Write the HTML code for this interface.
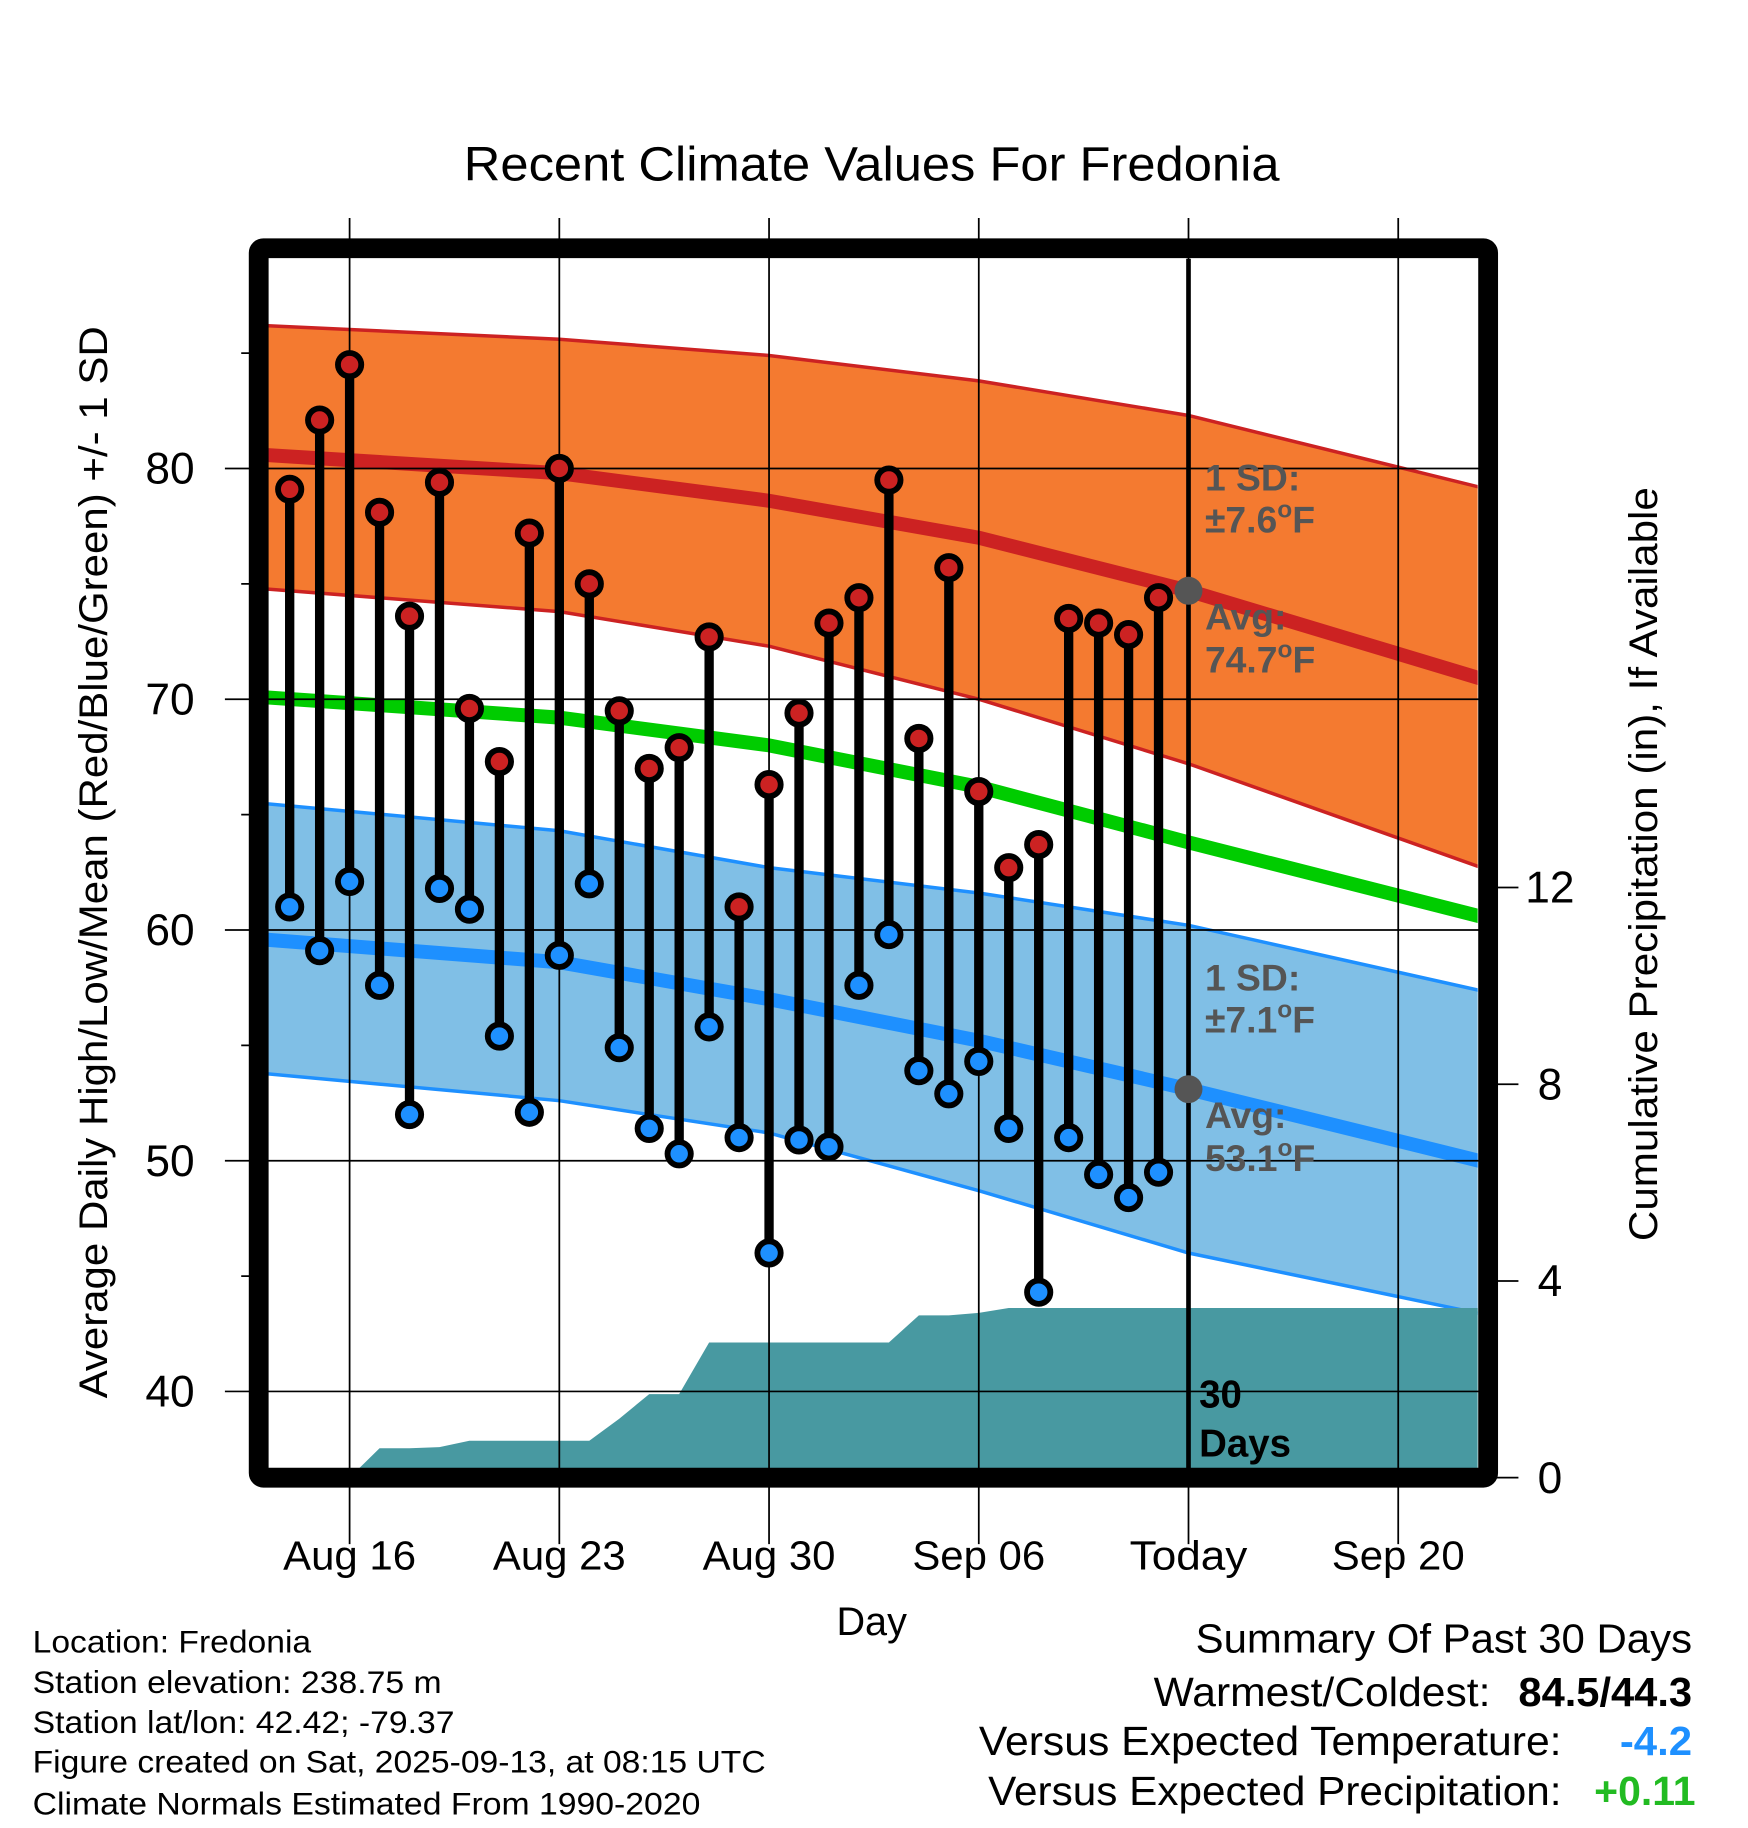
<!DOCTYPE html>
<html><head><meta charset="utf-8"><style>
html,body{margin:0;padding:0;background:#fff}
svg{display:block}
text{font-family:"Liberation Sans",sans-serif}
</style></head><body>
<svg id="chart" width="1748" height="1828" viewBox="0 0 1500 1568.6" xmlns="http://www.w3.org/2000/svg">
<defs><clipPath id="plotclip"><rect x="230" y="221" width="1038" height="1039"/></clipPath></defs>
<g id="bands" clip-path="url(#plotclip)"></g>
<g id="grid"></g>
<g id="marks"></g>
<g id="axes"></g>
<text x="398" y="155" font-size="41" textLength="700" lengthAdjust="spacingAndGlyphs">Recent Climate Values For Fredonia</text>
<text x="748" y="1403" font-size="34" text-anchor="middle">Day</text>
<text transform="translate(92,1200) rotate(-90)" font-size="34" textLength="920" lengthAdjust="spacingAndGlyphs">Average Daily High/Low/Mean (Red/Blue/Green) +/- 1 SD</text>
<text transform="translate(1422,1065) rotate(-90)" font-size="34" textLength="647" lengthAdjust="spacingAndGlyphs">Cumulative Precipitation (in), If Available</text>
<g font-size="27">
<text x="28" y="1418" textLength="239" lengthAdjust="spacingAndGlyphs">Location: Fredonia</text>
<text x="28" y="1453" textLength="351" lengthAdjust="spacingAndGlyphs">Station elevation: 238.75 m</text>
<text x="28" y="1487" textLength="362" lengthAdjust="spacingAndGlyphs">Station lat/lon: 42.42; -79.37</text>
<text x="28" y="1521" textLength="629" lengthAdjust="spacingAndGlyphs">Figure created on Sat, 2025-09-13, at 08:15 UTC</text>
<text x="28" y="1557" textLength="573" lengthAdjust="spacingAndGlyphs">Climate Normals Estimated From 1990-2020</text>
</g>
<g font-size="35">
<text x="1026" y="1418" textLength="426" lengthAdjust="spacingAndGlyphs">Summary Of Past 30 Days</text>
<text x="990" y="1464" textLength="289" lengthAdjust="spacingAndGlyphs">Warmest/Coldest:</text>
<text x="1303" y="1464" textLength="149" lengthAdjust="spacingAndGlyphs" font-weight="bold">84.5/44.3</text>
<text x="840" y="1506" textLength="500" lengthAdjust="spacingAndGlyphs">Versus Expected Temperature:</text>
<text x="1390" y="1506" textLength="62" lengthAdjust="spacingAndGlyphs" font-weight="bold" fill="#1e90ff">-4.2</text>
<text x="848" y="1549" textLength="492" lengthAdjust="spacingAndGlyphs">Versus Expected Precipitation:</text>
<text x="1368" y="1549" textLength="87" lengthAdjust="spacingAndGlyphs" font-weight="bold" fill="#22bb22">+0.11</text>
</g>
<script>
// data (days offset from Aug 16)
const dayOffsets = [-2,-1,0,1,2,3,4,5,6,7,8,9,10,11,12,13,14,15,16,17,18,19,20,21,22,23,24,25,26,27];
const highs = [79.1,82.1,84.5,78.1,73.6,79.4,69.6,67.3,77.2,80.0,75.0,69.5,67.0,67.9,72.7,61.0,66.3,69.4,73.3,74.4,79.5,68.3,75.7,66.0,62.7,63.7,73.5,73.3,72.8,74.4];
const lows = [61.0,59.1,62.1,57.6,52.0,61.8,60.9,55.4,52.1,58.9,62.0,54.9,51.4,50.3,55.8,51.0,46.0,50.9,50.6,57.6,59.8,53.9,52.9,54.3,51.4,44.3,51.0,49.4,48.4,49.5];
const precipCum = [0,0,0,0.6,0.6,0.62,0.75,0.75,0.75,0.75,0.75,1.2,1.7,1.7,2.75,2.75,2.75,2.75,2.75,2.75,2.75,3.3,3.3,3.35,3.45,3.45,3.45,3.45,3.45,3.45];
const normDays = [-3,7,14,21,28,38];
const highAvg = [80.6,79.8,78.6,77.0,74.7,70.8];
const highUp = [86.2,85.6,84.9,83.8,82.3,79.1];
const highLo = [74.8,73.8,72.3,70.0,67.2,62.6];
const meanAvg = [70.1,69.2,68.0,66.2,63.8,60.5];
const lowAvg = [59.6,58.6,57.0,55.2,53.1,49.9];
const lowUp = [65.5,64.3,62.7,61.6,60.2,57.3];
const lowLo = [53.8,52.6,51.2,48.7,46.0,43.3];
const xTickDays = [0,7,14,21,28,35];
const xTickLabels = ["Aug 16","Aug 23","Aug 30","Sep 06","Today","Sep 20"];
const yTicks = [40,50,60,70,80];
const yMinor = [45,55,65,75,85];
const pTicks = [0,4,8,12];
const todayDay = 28;

const NS="http://www.w3.org/2000/svg";
const X = d => 300 + d*25.71;
const Y = v => 402 + (80 - v)*19.8;
const P = v => 1268 - v*42.2;
function mk(tag, attrs, parent){const e=document.createElementNS(NS,tag);for(const k in attrs)e.setAttribute(k,attrs[k]);parent.appendChild(e);return e;}
const bands=document.getElementById('bands'), grid=document.getElementById('grid'), marks=document.getElementById('marks'), axes=document.getElementById('axes');
const pts = arr => normDays.map((d,i)=>X(d).toFixed(1)+','+Y(arr[i]).toFixed(1));
function band(up, lo, fill, edge, name){
  const p = mk('polygon',{points: pts(up).concat(pts(lo).reverse()).join(' '), fill: fill}, bands);
  
  
  [up,lo].forEach(a=>{const l=mk('polyline',{points:pts(a).join(' '),fill:'none',stroke:edge,'stroke-width':3},bands);
    
    });
}
function line(arr, color, w, name){
  const l=mk('polyline',{points:pts(arr).join(' '),fill:'none',stroke:color,'stroke-width':w},bands);
  
  
}
band(highUp, highLo, '#f47a30', '#cc2222', 'high-sd-band');
band(lowUp, lowLo, '#80bfe6', '#1e90ff', 'low-sd-band');
line(highAvg, '#cc2222', 12, 'high-normal-line');
line(lowAvg, '#1e90ff', 12, 'low-normal-line');
line(meanAvg, '#00cc00', 12, 'mean-normal-line');
let pp = [X(-3)+','+P(0)];
dayOffsets.forEach((d,i)=>pp.push(X(d).toFixed(1)+','+P(precipCum[i]).toFixed(1)));
pp.push(X(40)+','+P(precipCum[precipCum.length-1]));
pp.push(X(40)+','+P(0));
const area=mk('polygon',{points:pp.join(' '),fill:'#4899a1'},bands);


yTicks.forEach(v=>{const l=mk('line',{x1:193,x2:1278,y1:Y(v),y2:Y(v),stroke:'#000','stroke-width':1.5},grid);
  
  
  const t=mk('text',{x:167,y:Y(v)+13,'font-size':38,'text-anchor':'end'},axes);t.textContent=v;
  
  });
yMinor.forEach(v=>{const l=mk('line',{x1:207,x2:222,y1:Y(v),y2:Y(v),stroke:'#000','stroke-width':1.5},grid);
  
  });
xTickDays.forEach((d,i)=>{const l=mk('line',{x1:X(d),x2:X(d),y1:187,y2:1325,stroke:'#000','stroke-width':1.5},grid);
  
  
  const w = xTickLabels[i]==='Today' ? 101 : 114;
  const t=mk('text',{x:X(d)-w/2,y:1347,'font-size':35,textLength:w,lengthAdjust:'spacingAndGlyphs'},axes);t.textContent=xTickLabels[i];
  
  });
pTicks.forEach(v=>{const l=mk('line',{x1:1278,x2:1303,y1:P(v),y2:P(v),stroke:'#000','stroke-width':1.5},axes);
  
  
  const t=mk('text',{x:1330,y:P(v)+13,'font-size':38,'text-anchor':'middle'},axes);t.textContent=v;
  
  });
const tl=mk('line',{x1:X(todayDay),x2:X(todayDay),y1:222,y2:1266,stroke:'#000','stroke-width':4},marks);


dayOffsets.forEach((d,i)=>{
  const s=mk('line',{x1:X(d),x2:X(d),y1:Y(highs[i]),y2:Y(lows[i]),stroke:'#000','stroke-width':8},marks);
  
  
});
dayOffsets.forEach((d,i)=>{
  const h=mk('circle',{cx:X(d),cy:Y(highs[i]),r:10,fill:'#cc2222',stroke:'#000','stroke-width':5},marks);
  
  
  const l=mk('circle',{cx:X(d),cy:Y(lows[i]),r:10,fill:'#1e90ff',stroke:'#000','stroke-width':5},marks);
  
  
});
const todayIdx = normDays.indexOf(todayDay);
[[highAvg[todayIdx],'today-high-normal'],[lowAvg[todayIdx],'today-low-normal']].forEach(([v,n])=>{
  const c=mk('circle',{cx:X(todayDay),cy:Y(v),r:12,fill:'#555'},marks);
  
  
});
const ann=[["1 SD:",1034,421],["\u00b17.6\u00b0F",1034,457],["Avg:",1034,540],["74.7\u00b0F",1034,577],["1 SD:",1034,850],["\u00b17.1\u00b0F",1034,886],["Avg:",1034,968],["53.1\u00b0F",1034,1005]];
ann.forEach(a=>{const t=mk('text',{x:a[1],y:a[2],'font-size':32,'font-weight':'bold',fill:'#555'},marks);t.textContent=a[0].replace('\u00b0F','');
  if(a[0].includes('\u00b0F')){const sp=mk('tspan',{'font-size':21,dy:-13},t);sp.textContent='o';const sp2=mk('tspan',{dy:13},t);sp2.textContent='F';}
  
  });
[["30",1208],["Days",1250]].forEach(a=>{const t=mk('text',{x:1029,y:a[1],'font-size':33,'font-weight':'bold'},marks);t.textContent=a[0];
  
  });
const fr=mk('rect',{x:222,y:213,width:1055,height:1055,fill:'none',stroke:'#000','stroke-width':17,rx:4},axes);


</script>
</svg>
</body></html>
